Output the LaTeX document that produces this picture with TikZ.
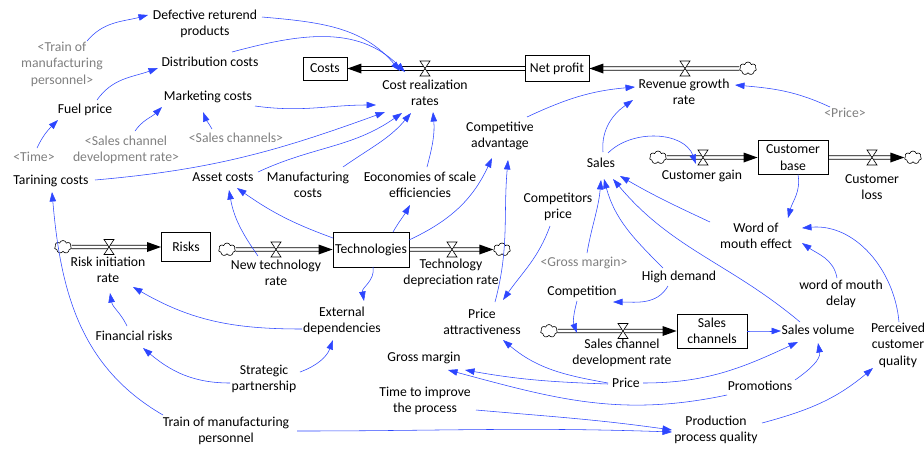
\documentclass[tikz,border=0pt]{standalone}
\usepackage{fontspec}
\setmainfont{Carlito}
\usetikzlibrary{arrows.meta,shapes.symbols}
\definecolor{linkblue}{RGB}{45,70,255}
\definecolor{shadowgray}{RGB}{128,128,128}
\newcommand\lnk[5]{\draw[link] ([shift={#2}]#1.center) to[#5] ([shift={#4}]#3.center);}
\newcommand\drawvalve[1]{\draw[valve] ([shift={(-5,7.5)}]#1) -- ++(10,0) -- ++(-10,-15) -- ++(10,0) -- cycle;}
\newcommand\drawpipe[4]{\draw[pipeline] ([shift={(#2,1.8)}]#1) -- ([shift={(#4,1.8)}]#3) ([shift={(#2,-1.8)}]#1) -- ([shift={(#4,-1.8)}]#3);}
\begin{document}
\begin{tikzpicture}[x=1pt,y=1pt,
 var/.style={align=center, inner sep=1pt, font=\fontsize{13.7}{16.5}\selectfont},
 shadow/.style={var, text=shadowgray},
 stock/.style={draw=black, line width=0.9pt, align=center, inner sep=0.5pt, font=\fontsize{13.7}{16.5}\selectfont},
 pipeline/.style={draw=black, line width=0.65pt},
 valve/.style={draw=black, fill=white, line width=0.6pt},
 flowcloud/.style={cloud, draw=black, fill=white, cloud puffs=7, aspect=1.3, minimum width=17pt, minimum height=13pt, inner sep=0pt, line width=0.6pt},
 link/.style={draw=linkblue, line width=0.55pt, -{Triangle[length=9.5pt,width=6.5pt]}}]
\path[use as bounding box, fill=white] (0,0) rectangle (924,-451);

% stocks
\node[stock, minimum width=44pt, minimum height=23pt] (costs) at (325,-68.5) {Costs};
\node[stock, minimum width=64pt, minimum height=26pt] (netprofit) at (557,-68.5) {Net profit};
\node[stock, minimum width=70pt, minimum height=34pt] (custbase) at (793,-157.5) {Customer\\base};
\node[stock, minimum width=49pt, minimum height=29pt] (risks) at (186,-247) {Risks};
\node[stock, minimum width=76pt, minimum height=35pt] (tech) at (371,-249.5) {Technologies};
\node[stock, minimum width=70pt, minimum height=34pt] (salesch) at (712,-331) {Sales\\channels};

% clouds
\node[flowcloud] (clrev) at (748,-68.5) {};
\node[flowcloud] (clcg) at (658,-157.5) {};
\node[flowcloud] (clcl) at (913,-157.5) {};
\node[flowcloud] (clrisk) at (63,-247) {};
\node[flowcloud] (cltech) at (227,-249.5) {};
\node[flowcloud] (cldep) at (502,-249.5) {};
\node[flowcloud] (clsc) at (549,-331) {};

% valves
\coordinate (vcost) at (425,-68.5);
\coordinate (vrev) at (685,-68.5);
\coordinate (vcg) at (703,-157.5);
\coordinate (vcl) at (872,-157.5);
\coordinate (vrisk) at (109,-247);
\coordinate (vnt) at (276,-249.5);
\coordinate (vdep) at (452,-249.5);
\coordinate (vsc) at (623,-331);

% pipes
\drawpipe{costs.east}{13}{netprofit.west}{0}
\fill (costs.east) -- ++(14,5) -- ++(0,-10) -- cycle;
\drawpipe{netprofit.east}{13}{clrev.west}{0}
\fill (netprofit.east) -- ++(14,5) -- ++(0,-10) -- cycle;
\drawpipe{clcg.east}{0}{custbase.west}{-13}
\fill (custbase.west) -- ++(-14,5) -- ++(0,-10) -- cycle;
\drawpipe{custbase.east}{0}{clcl.west}{-13}
\fill (clcl.west) -- ++(-14,5) -- ++(0,-10) -- cycle;
\drawpipe{clrisk.east}{0}{risks.west}{-13}
\fill (risks.west) -- ++(-14,5) -- ++(0,-10) -- cycle;
\drawpipe{cltech.east}{0}{tech.west}{-13}
\fill (tech.west) -- ++(-14,5) -- ++(0,-10) -- cycle;
\drawpipe{tech.east}{0}{cldep.west}{-13}
\fill (cldep.west) -- ++(-14,5) -- ++(0,-10) -- cycle;
\drawpipe{clsc.east}{0}{salesch.west}{-13}
\fill (salesch.west) -- ++(-14,5) -- ++(0,-10) -- cycle;
\drawvalve{vcost}\drawvalve{vrev}\drawvalve{vcg}\drawvalve{vcl}
\drawvalve{vrisk}\drawvalve{vnt}\drawvalve{vdep}\drawvalve{vsc}

% variables
\node[shadow] (trainsh) at (62,-64) {<Train of\\manufacturing\\personnel>};
\node[var] (def) at (205,-24) {Defective returend\\products};
\node[var] (dist) at (210,-62) {Distribution costs};
\node[var] (fuel) at (85,-110) {Fuel price};
\node[var] (mkt) at (208,-97) {Marketing costs};
\node[shadow] (scdrsh) at (126,-150) {<Sales channel\\development rate>};
\node[shadow] (scsh) at (236,-138) {<Sales channels>};
\node[shadow] (time) at (34,-157) {<Time>};
\node[var] (tarin) at (51,-181) {Tarining costs};
\node[var] (asset) at (223,-177) {Asset costs};
\node[var] (manu) at (308,-185) {Manufacturing\\costs};
\node[var] (econ) at (420,-185) {Eoconomies of scale\\efficiencies};
\node[var] (comp) at (500,-136) {Competitive\\advantage};
\node[var] (rev) at (684,-92) {Revenue growth\\rate};
\node[var] (cost) at (425,-93) {Cost realization\\rates};
\node[shadow] (pricesh) at (845,-113) {<Price>};
\node[var] (sales) at (601,-163) {Sales};
\node[var] (custgain) at (702,-176) {Customer gain};
\node[var] (custloss) at (872,-187) {Customer\\loss};
\node[var] (compprice) at (558,-207) {Competitors\\price};
\node[var] (wom) at (756,-236) {Word of\\mouth effect};
\node[shadow] (grosssh) at (584,-263) {<Gross margin>};
\node[var] (high) at (679,-277) {High demand};
\node[var] (competition) at (582,-292) {Competition};
\node[var] (womdelay) at (841,-294) {word of mouth\\delay};
\node[var] (riskrate) at (108,-270) {Risk initiation\\rate};
\node[var] (ntrate) at (276,-273) {New technology\\rate};
\node[var] (deprate) at (451,-273) {Technology\\depreciation rate};
\node[var] (fin) at (134,-336) {Financial risks};
\node[var] (ext) at (342,-321) {External\\dependencies};
\node[var] (priceattr) at (482,-322) {Price\\attractiveness};
\node[var] (scdr) at (622,-353) {Sales channel\\development rate};
\node[var] (salesvol) at (818,-330) {Sales volume};
\node[var] (perc) at (898,-345) {Perceived\\customer\\quality};
\node[var] (gross) at (424,-358) {Gross margin};
\node[var] (strat) at (264,-379) {Strategic\\partnership};
\node[var] (price) at (626,-383) {Price};
\node[var] (promo) at (760,-386) {Promotions};
\node[var] (timeimp) at (425,-401) {Time to improve\\the process};
\node[var] (train) at (226,-431) {Train of manufacturing\\personnel};
\node[var] (prod) at (716,-430) {Production\\process quality};

% links
\lnk{trainsh}{(25,23)}{def}{(-57,9)}{out=50,in=195}
\lnk{def}{(57,7)}{cost}{(-25,22)}{out=-5,in=130}
\lnk{dist}{(22,10)}{cost}{(-20,21)}{out=15,in=135}
\lnk{fuel}{(12,10)}{dist}{(-52,-6)}{out=55,in=200}
\lnk{time}{(3,9)}{fuel}{(-27,-10)}{out=65,in=225}
\lnk{scdrsh}{(9,19)}{mkt}{(-46,-10)}{out=55,in=225}
\lnk{scsh}{(-24,9)}{mkt}{(-5,-15)}{out=120,in=-70}
\lnk{mkt}{(47,-9)}{cost}{(-49,-12)}{out=-8,in=180}
\lnk{tarin}{(44,1)}{cost}{(-40,-19)}{out=5,in=200}
\lnk{asset}{(35,5)}{cost}{(-23,-20)}{out=25,in=215}
\lnk{manu}{(35,18)}{cost}{(-14,-20)}{out=35,in=230}
\lnk{econ}{(7,18)}{cost}{(8,-19)}{out=75,in=-85}
\lnk{tech}{(-38,11.5)}{asset}{(14,-11)}{out=160,in=-35}
\lnk{ntrate}{(-18,17)}{asset}{(6,-13)}{out=125,in=-80}
\lnk{tech}{(22,17.5)}{econ}{(-10,-20)}{out=60,in=-120}
\lnk{tech}{(38,9.5)}{comp}{(-8,-22)}{out=25,in=-115}
\lnk{priceattr}{(13,20)}{comp}{(8,-24)}{out=75,in=-95}
\lnk{compprice}{(-8,-19)}{priceattr}{(21,22)}{out=-110,in=55}
\lnk{comp}{(27,19)}{rev}{(-49,5)}{out=25,in=185}
\lnk{sales}{(2,11)}{rev}{(-51,-8)}{out=95,in=215}
\lnk{pricesh}{(-15,6)}{rev}{(51,7)}{out=155,in=-5}
\lnk{sales}{(7,10)}{custgain}{(-6,12)}{out=45,in=110}
\lnk{custbase}{(5,-17)}{wom}{(32,18)}{out=-80,in=75}
\lnk{womdelay}{(-4,16)}{wom}{(46,-7)}{out=100,in=-35}
\lnk{perc}{(1,23)}{wom}{(46,8)}{out=95,in=5}
\lnk{wom}{(-46,14)}{sales}{(19,-13)}{out=155,in=-30}
\lnk{salesvol}{(-18,8)}{sales}{(12,-16)}{out=140,in=-50}
\lnk{high}{(-16,9)}{sales}{(3,-16)}{out=135,in=-75}
\lnk{grosssh}{(3,10)}{sales}{(0,-17)}{out=80,in=-95}
\lnk{high}{(-11,-9)}{competition}{(31,-10)}{out=-120,in=0}
\lnk{competition}{(-5,-9)}{scdr}{(-45,20)}{out=-105,in=110}
\lnk{salesch}{(35,0)}{salesvol}{(-37,-1)}{out=0,in=180}
\lnk{price}{(17,0)}{salesvol}{(-20,-12)}{out=0,in=205}
\lnk{promo}{(35,6)}{salesvol}{(0,-13)}{out=35,in=-80}
\lnk{price}{(-18,0)}{priceattr}{(21,-18)}{out=170,in=-40}
\lnk{price}{(-18,-1)}{gross}{(41,-12)}{out=178,in=-10}
\lnk{promo}{(-33,-9)}{gross}{(24,-12)}{out=192,in=-15}
\lnk{timeimp}{(51,-9)}{prod}{(-44,0)}{out=-5,in=172}
\lnk{train}{(71,0)}{prod}{(-44,-2)}{out=0,in=178}
\lnk{prod}{(46,7)}{perc}{(-25,-23)}{out=15,in=220}
\lnk{train}{(-63,16)}{tarin}{(1,-11)}{out=150,in=-85}
\lnk{fin}{(-7,10)}{riskrate}{(2,-23)}{out=115,in=-80}
\lnk{ext}{(-40,-8)}{riskrate}{(25,-17)}{out=180,in=-30}
\lnk{strat}{(-34,-4)}{fin}{(9,-12)}{out=180,in=-40}
\lnk{strat}{(36,7)}{ext}{(-9,-19)}{out=20,in=-110}
\lnk{tech}{(2,-17.5)}{ext}{(22,20)}{out=-80,in=100}
\end{tikzpicture}
\end{document}
